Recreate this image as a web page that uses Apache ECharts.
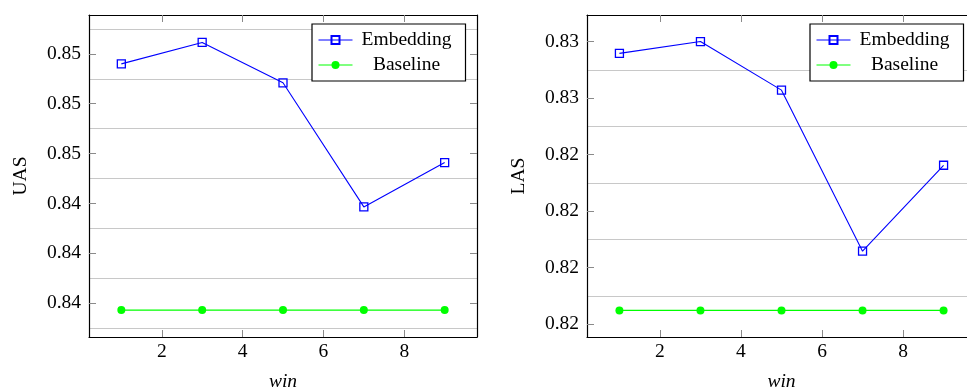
<!DOCTYPE html>
<html>
<head>
<meta charset="utf-8">
<script src="https://cdn.jsdelivr.net/npm/echarts@6/dist/echarts.min.js"></script>
<style>html,body{margin:0;padding:0;background:#fff;}#c{width:967px;height:388px;}</style>
</head>
<body>
<div id="c"></div>
<script>
// ---- data ----
const winValues = [1, 3, 5, 7, 9];
const xTickValues = [2, 4, 6, 8];

const uasEmbedding = [0.84680, 0.84723, 0.84642, 0.84393, 0.84482];
const uasBaseline  = [0.84186, 0.84186, 0.84186, 0.84186, 0.84186];
const uasTickValues = [0.842, 0.843, 0.844, 0.845, 0.846, 0.847];
const uasTickLabels = ['0.84', '0.84', '0.84', '0.85', '0.85', '0.85'];
const uasGridValues = [0.8415, 0.8425, 0.8435, 0.8445, 0.8455, 0.8465, 0.8475];
const uasRange = [0.84132, 0.84778];

const lasEmbedding = [0.82579, 0.82600, 0.82514, 0.82229, 0.82381];
const lasBaseline  = [0.82124, 0.82124, 0.82124, 0.82124, 0.82124];
const lasTickValues = [0.821, 0.822, 0.823, 0.824, 0.825, 0.826];
const lasTickLabels = ['0.82', '0.82', '0.82', '0.82', '0.83', '0.83'];
const lasGridValues = [0.8215, 0.8225, 0.8235, 0.8245, 0.8255];
const lasRange = [0.82077, 0.82647];

const xRange = [0.2, 9.8];
const seriesNames = ['Embedding', 'Baseline'];
const xName = 'win';
const yNames = ['UAS', 'LAS'];

// ---- chart ----
const FONT = 'Liberation Serif';
const FS = 19.5;
const TICK_COLOR = '#8a8a8a';
const GRID_COLOR = '#c8c8c8';

function pairs(xs, ys) { return xs.map((x, i) => [x, ys[i]]); }
function labelFor(values, labels) {
  return v => {
    for (let i = 0; i < values.length; i++) if (Math.abs(values[i] - v) < 1e-7) return labels[i];
    return '';
  };
}

const grids = [
  { left: 89, top: 15, width: 388, height: 322, outerBoundsMode: 'none', containLabel: false },
  { left: 587, top: 15, width: 389, height: 322, outerBoundsMode: 'none', containLabel: false }
];

const xAxes = [], yAxes = [], series = [], legends = [];
const panels = [
  { emb: uasEmbedding, base: uasBaseline, ticks: uasTickValues, labels: uasTickLabels, gridVals: uasGridValues, range: uasRange, yName: yNames[0], legendLeft: 312 },
  { emb: lasEmbedding, base: lasBaseline, ticks: lasTickValues, labels: lasTickLabels, gridVals: lasGridValues, range: lasRange, yName: yNames[1], legendLeft: 810 }
];

panels.forEach((p, gi) => {
  const xb = xAxes.length;
  xAxes.push({
    type: 'value', gridIndex: gi, position: 'bottom', min: xRange[0], max: xRange[1],
    name: xName, nameLocation: 'middle', nameGap: 35,
    nameTextStyle: { fontFamily: FONT, fontSize: FS, fontStyle: 'italic', color: '#000' },
    axisLine: { show: true, onZero: false, lineStyle: { color: '#000', width: 1.2 } },
    axisTick: { show: true, inside: true, length: 7, customValues: xTickValues, lineStyle: { color: TICK_COLOR, width: 1 } },
    axisLabel: { show: true, customValues: xTickValues, margin: 5, fontFamily: FONT, fontSize: FS, color: '#000' },
    splitLine: { show: false }
  });
  xAxes.push({
    type: 'value', gridIndex: gi, position: 'top', min: xRange[0], max: xRange[1],
    axisLine: { show: true, onZero: false, lineStyle: { color: '#000', width: 1.2 } },
    axisTick: { show: true, inside: true, length: 7, customValues: xTickValues, lineStyle: { color: TICK_COLOR, width: 1 } },
    axisLabel: { show: false },
    splitLine: { show: false }
  });
  const yb = yAxes.length;
  yAxes.push({
    type: 'value', gridIndex: gi, position: 'left', min: p.range[0], max: p.range[1],
    name: p.yName, nameLocation: 'middle', nameGap: 58, nameRotate: 90,
    nameTextStyle: { fontFamily: FONT, fontSize: FS, color: '#000' },
    axisLine: { show: true, onZero: false, lineStyle: { color: '#000', width: 1.2 } },
    axisTick: { show: true, inside: true, length: 7, customValues: p.ticks, lineStyle: { color: TICK_COLOR, width: 1 } },
    axisLabel: { show: true, customValues: p.ticks, margin: 8, formatter: labelFor(p.ticks, p.labels), fontFamily: FONT, fontSize: FS, color: '#000' },
    splitLine: { show: false }
  });
  yAxes.push({
    type: 'value', gridIndex: gi, position: 'right', min: p.range[0], max: p.range[1],
    axisLine: { show: true, onZero: false, lineStyle: { color: '#000', width: 1.2 } },
    axisTick: { show: true, inside: true, length: 7, customValues: p.ticks, lineStyle: { color: TICK_COLOR, width: 1 } },
    axisLabel: { show: false },
    splitLine: { show: false }
  });
  // hidden axis carrying the grid lines (half-step positions)
  yAxes.push({
    type: 'value', gridIndex: gi, position: 'right', offset: 0, min: p.range[0], max: p.range[1],
    axisLine: { show: false },
    axisTick: { show: false, customValues: p.gridVals },
    axisLabel: { show: false, customValues: p.gridVals },
    splitLine: { show: true, lineStyle: { color: GRID_COLOR, width: 1.2 } }
  });
  series.push({
    name: seriesNames[0], type: 'line', xAxisIndex: xb, yAxisIndex: yb, z: 3,
    data: pairs(winValues, p.emb), symbol: 'rect', symbolSize: 8,
    itemStyle: { color: 'rgba(255,255,255,0)', borderColor: '#0000ff', borderWidth: 1.3 },
    lineStyle: { color: '#0000ff', width: 1.1 }, animation: false
  });
  series.push({
    name: seriesNames[1], type: 'line', xAxisIndex: xb, yAxisIndex: yb, z: 3,
    data: pairs(winValues, p.base), symbol: 'circle', symbolSize: 8,
    itemStyle: { color: '#00ff00', borderWidth: 0 },
    lineStyle: { color: '#00ff00', width: 1.3 }, animation: false
  });
  legends.push({
    orient: 'vertical', left: p.legendLeft, top: 24,
    data: seriesNames,
    backgroundColor: '#fff', borderColor: '#000', borderWidth: 1.2, borderRadius: 0,
    padding: [6, 10, 6, 6], itemGap: 5, itemWidth: 34, itemHeight: 10,
    selectedMode: false,
    lineStyle: { width: 1 },
    formatter: n => '{t|' + n + '}',
    textStyle: {
      fontFamily: FONT, fontSize: FS, color: '#000',
      rich: { t: { width: 98, align: 'center', fontFamily: FONT, fontSize: FS, lineHeight: 20, color: '#000' } }
    }
  });
});

const chart = echarts.init(document.getElementById('c'), null, { renderer: 'canvas' });
chart.setOption({
  animation: false,
  grid: grids,
  xAxis: xAxes,
  yAxis: yAxes,
  legend: legends,
  series: series
});
</script>
</body>
</html>
